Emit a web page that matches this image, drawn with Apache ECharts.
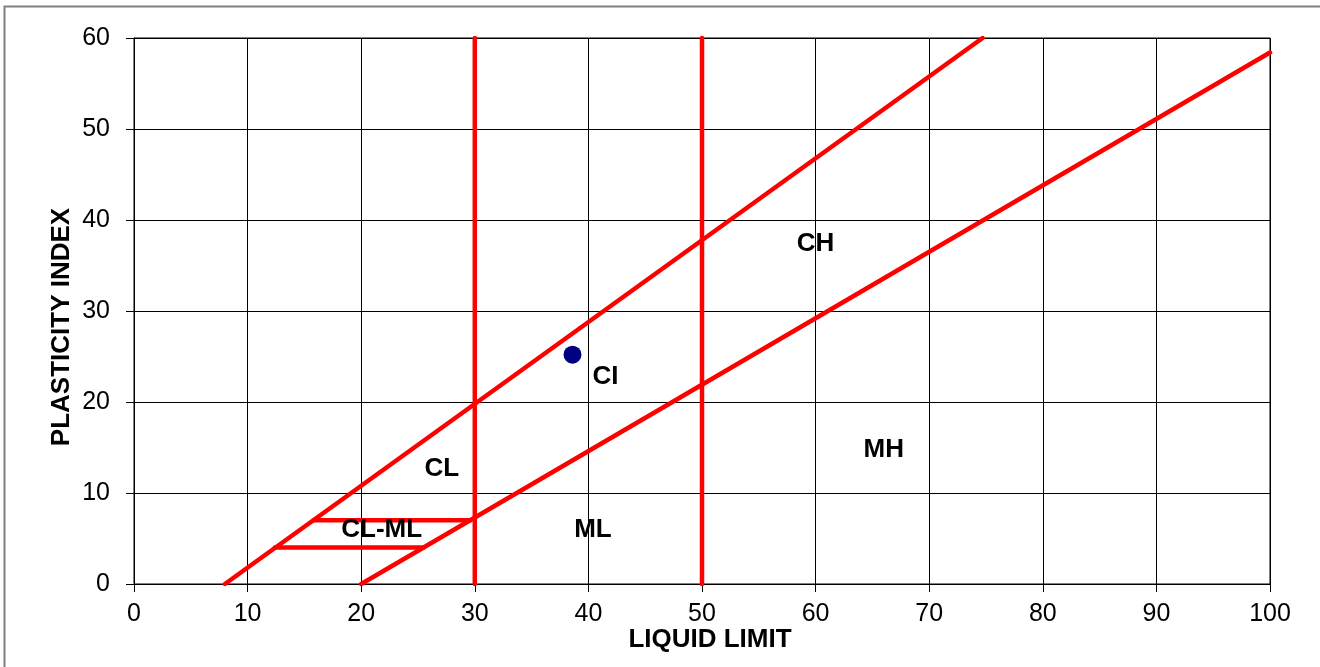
<!DOCTYPE html>
<html>
<head>
<meta charset="utf-8">
<script src="https://cdn.jsdelivr.net/npm/echarts@6/dist/echarts.min.js"></script>
<style>html,body{margin:0;padding:0;background:#fff}#c{width:1320px;height:667px}</style>
</head>
<body>
<div id="c"></div>
<script>
// Boundary lines of the plasticity chart (LL, PI)
const uLine = [[8, 0], [74.7, 60]];
const aLine = [[20, 0], [100, 58.4]];
const ll30Line = [[30, 0], [30, 60]];
const ll50Line = [[50, 0], [50, 60]];
const pi7Line = [[15.8, 7], [29.6, 7]];
const pi4Line = [[12.4, 4], [25.5, 4]];
// Sample point
const samplePoint = [[38.6, 25.2]];
// Zone labels
const zoneNames = ['CH', 'CI', 'CL', 'CL-ML', 'ML', 'MH'];
const zoneLL = [60.0, 41.5, 27.1, 21.8, 40.4, 66.0];
const zonePI = [37.4, 22.8, 12.7, 5.9, 5.9, 14.7];
// Axis settings
const xTicks = {min: 0, max: 100, interval: 10};
const yTicks = {min: 0, max: 60, interval: 10};

const FONT = 'Liberation Sans, Arial, sans-serif';
const boundaries = [uLine, aLine, ll30Line, ll50Line, pi7Line, pi4Line];

const chart = echarts.init(document.getElementById('c'), null, {renderer: 'canvas'});
const series = boundaries.map(seg => ({
  type: 'line', data: seg, symbol: 'none', silent: true,
  lineStyle: {color: '#ff0000', width: 4.5, cap: 'round'}, z: 3, animation: false
}));
series.push({
  type: 'scatter', data: samplePoint, symbol: 'circle', symbolSize: 18,
  itemStyle: {color: '#000080', opacity: 1}, z: 5, animation: false
});
series.push({
  type: 'scatter', symbolSize: 0, z: 6, animation: false,
  itemStyle: {opacity: 1},
  data: zoneNames.map((n, i) => ({name: n, value: [zoneLL[i], zonePI[i]]})),
  label: {show: true, position: 'inside', formatter: p => p.name,
    fontFamily: FONT, fontWeight: 'bold', fontSize: 26, color: '#000', opacity: 1}
});

chart.setOption({
  animation: false,
  backgroundColor: '#fff',
  grid: {left: 134, right: 50, top: 38, bottom: 83, show: true, borderColor: '#000', borderWidth: 1},
  xAxis: {
    type: 'value', min: xTicks.min, max: xTicks.max, interval: xTicks.interval,
    axisLine: {show: true, lineStyle: {color: '#000', width: 1}},
    axisTick: {show: true, length: 8, lineStyle: {color: '#000'}},
    axisLabel: {fontFamily: FONT, fontSize: 25, color: '#000', margin: 18},
    splitLine: {show: true, lineStyle: {color: '#000', width: 1}}
  },
  yAxis: {
    type: 'value', min: yTicks.min, max: yTicks.max, interval: yTicks.interval,
    axisLine: {show: true, lineStyle: {color: '#000', width: 1}},
    axisTick: {show: true, length: 8, lineStyle: {color: '#000'}},
    axisLabel: {fontFamily: FONT, fontSize: 25, color: '#000', margin: 24},
    splitLine: {show: true, lineStyle: {color: '#000', width: 1}}
  },
  graphic: [
    {type: 'rect', shape: {x: 4.5, y: 6.5, width: 1400, height: 800}, style: {fill: 'none', stroke: '#808080', lineWidth: 2}, z: -1, silent: true},
    {type: 'text', x: 710, y: 640, style: {text: 'LIQUID LIMIT', font: 'bold 26px ' + FONT, fill: '#000', textAlign: 'center', textVerticalAlign: 'middle'}},
    {type: 'text', x: 62, y: 327, rotation: Math.PI / 2, style: {text: 'PLASTICITY INDEX', font: 'bold 26px ' + FONT, fill: '#000', textAlign: 'center', textVerticalAlign: 'middle'}}
  ],
  series: series
});
</script>
</body>
</html>
